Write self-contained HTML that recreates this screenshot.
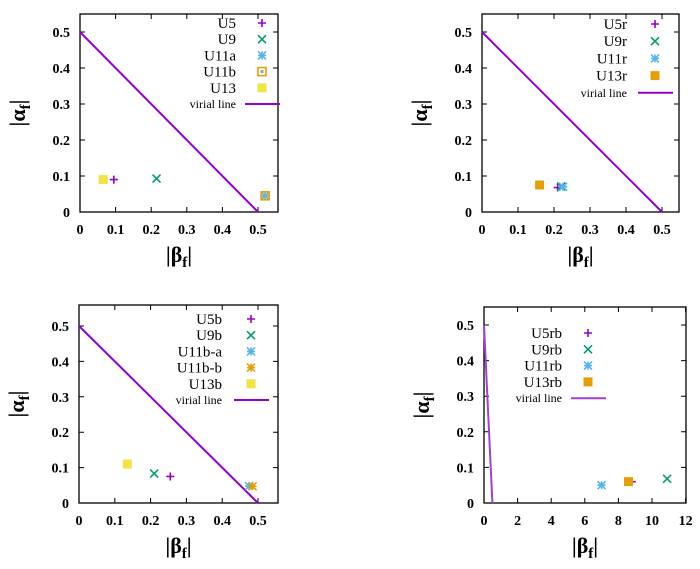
<!DOCTYPE html>
<html><head><meta charset="utf-8"><style>
html,body{margin:0;padding:0;background:#fff;}
svg{display:block;font-family:"Liberation Serif",serif;}
</style></head><body>
<svg id="fig" width="700" height="569" viewBox="0 0 700 569"></svg>
<script>
// Panel 1 data
const p1Names = ["U5","U9","U11a","U11b","U13"];
const p1Beta = [0.095,0.215,0.52,0.52,0.065];
const p1Alpha = [0.09,0.093,0.045,0.045,0.09];
// Panel 2 data
const p2Names = ["U5r","U9r","U11r","U13r"];
const p2Beta = [0.21,0.22,0.225,0.16];
const p2Alpha = [0.068,0.071,0.07,0.075];
// Panel 3 data
const p3Names = ["U5b","U9b","U11b-a","U11b-b","U13b"];
const p3Beta = [0.255,0.21,0.475,0.485,0.135];
const p3Alpha = [0.075,0.083,0.048,0.047,0.11];
// Panel 4 data
const p4Names = ["U5rb","U9rb","U11rb","U13rb"];
const p4Beta = [8.8,10.9,7.0,8.6];
const p4Alpha = [0.06,0.068,0.05,0.06];
// virial line endpoints (beta, alpha)
const virialBeta = [0,0.5];
const virialAlpha = [0.5,0];
const yTicks = [0,0.1,0.2,0.3,0.4,0.5];
const xTicksSmall = [0,0.1,0.2,0.3,0.4,0.5];
const xTicksBig = [0,2,4,6,8,10,12];

const NS="http://www.w3.org/2000/svg";
const svg=document.getElementById('fig');
function mk(tag,attrs,parent){const e=document.createElementNS(NS,tag);for(const k in attrs)e.setAttribute(k,attrs[k]);(parent||svg).appendChild(e);return e;}

const C={purple:"#9400d3",green:"#009e73",blue:"#56b4e9",orange:"#e69f00",yellow:"#f0e442"};

function marker(g,type,x,y,col){
  const s=4;
  if(type==="plus"){mk('path',{d:`M${x-s} ${y}H${x+s}M${x} ${y-s}V${y+s}`,stroke:col,'stroke-width':1.6},g);}
  else if(type==="x"){mk('path',{d:`M${x-s} ${y-s}L${x+s} ${y+s}M${x-s} ${y+s}L${x+s} ${y-s}`,stroke:col,'stroke-width':1.6},g);}
  else if(type==="star"){mk('path',{d:`M${x-s} ${y}H${x+s}M${x} ${y-s}V${y+s}M${x-s} ${y-s}L${x+s} ${y+s}M${x-s} ${y+s}L${x+s} ${y-s}`,stroke:col,'stroke-width':1.6},g);}
  else if(type==="osq"){mk('rect',{x:x-4,y:y-4,width:8,height:8,fill:'none',stroke:col,'stroke-width':1.6},g);mk('rect',{x:x-1.5,y:y-1.5,width:3,height:3,fill:'#8aa'},g);}
  else if(type==="sq"){mk('rect',{x:x-4.5,y:y-4.5,width:9,height:9,fill:col},g);}
}

function panel(o){
  const g=mk('g',{});
  
  
  const sx=v=>o.x0+(v-0)*o.kx, sy=v=>o.y0-v*o.ky;
  const fr=mk('rect',{x:o.x0,y:o.top,width:o.right-o.x0,height:o.y0-o.top,fill:'none',stroke:'#000','stroke-width':1.3},g);
  
  
  yTicks.forEach(t=>{
    const y=sy(t);
    mk('path',{d:`M${o.x0} ${y}h5M${o.right} ${y}h-5`,stroke:'#000','stroke-width':1},g);
    const tx=mk('text',{x:o.x0-10,y:y+5,'text-anchor':'end','font-size':14,'font-weight':'bold'},g);
    tx.textContent=String(t);
    
    
  });
  o.xt.forEach(t=>{
    const x=sx(t);
    mk('path',{d:`M${x} ${o.y0}v-5M${x} ${o.top}v5`,stroke:'#000','stroke-width':1},g);
    const tx=mk('text',{x:x,y:o.y0+22,'text-anchor':'middle','font-size':14,'font-weight':'bold'},g);
    tx.textContent=String(t);
    
    
  });
  const yl=mk('text',{x:0,y:0,transform:`translate(${o.x0-55},${(o.top+o.y0)/2}) rotate(-90)`,'text-anchor':'middle','font-size':22,'font-weight':'bold'},g);
  yl.innerHTML='|α<tspan font-size="15" dy="5">f</tspan><tspan dy="-5">|</tspan>';
  
  
  const xl=mk('text',{x:(o.x0+o.right)/2,y:o.y0+50,'text-anchor':'middle','font-size':22,'font-weight':'bold'},g);
  xl.innerHTML='|β<tspan font-size="15" dy="5">f</tspan><tspan dy="-5">|</tspan>';
  
  
  const vl=mk('line',{x1:sx(virialBeta[0]),y1:sy(virialAlpha[0]),x2:sx(virialBeta[1]),y2:sy(virialAlpha[1]),stroke:o.lineCol,'stroke-width':2},g);
  
  
  o.names.forEach((n,i)=>{
    const pg=mk('g',{},g);
    
    
    marker(pg,o.types[i],sx(o.beta[i]),sy(o.alpha[i]),o.cols[i]);
  });
  o.names.forEach((n,i)=>{
    const ly=o.ly0+i*o.ldy;
    const lt=mk('text',{x:o.lx,y:ly+5,'text-anchor':'end','font-size':15},g);
    lt.textContent=n;
    
    
    marker(g,o.types[i],o.lsx,ly,o.cols[i]);
  });
  const vy=o.ly0+o.names.length*o.ldy;
  const vt=mk('text',{x:o.lx,y:vy+4,'text-anchor':'end','font-size':12},g);
  vt.textContent='virial line';
  
  
  mk('line',{x1:o.lsx-17,y1:vy,x2:o.lsx+18,y2:vy,stroke:o.lineCol,'stroke-width':2},g);
}

panel({name:'panel-top-left',x0:80,right:278,top:14,y0:212,kx:356,ky:360,xt:xTicksSmall,
  names:p1Names,beta:p1Beta,alpha:p1Alpha,types:["plus","x","star","osq","sq"],
  cols:[C.purple,C.green,C.blue,C.orange,C.yellow],lineCol:C.purple,lx:236,lsx:262,ly0:23,ldy:16.2});
panel({name:'panel-top-right',x0:482,right:679,top:14,y0:212,kx:360,ky:360,xt:xTicksSmall,
  names:p2Names,beta:p2Beta,alpha:p2Alpha,types:["plus","x","star","sq"],
  cols:[C.purple,C.green,C.blue,C.orange],lineCol:C.purple,lx:627,lsx:655,ly0:24,ldy:17.2});
panel({name:'panel-bottom-left',x0:79,right:278,top:305,y0:503,kx:358,ky:354,xt:xTicksSmall,
  names:p3Names,beta:p3Beta,alpha:p3Alpha,types:["plus","x","star","star","sq"],
  cols:[C.purple,C.green,C.blue,C.orange,C.yellow],lineCol:C.purple,lx:222,lsx:251,ly0:319,ldy:16.2});
panel({name:'panel-bottom-right',x0:484,right:686,top:307,y0:503,kx:16.8,ky:356,xt:xTicksBig,
  names:p4Names,beta:p4Beta,alpha:p4Alpha,types:["plus","x","star","sq"],
  cols:[C.purple,C.green,C.blue,C.orange],lineCol:"#a040d8",lx:562,lsx:588,ly0:333,ldy:16.3});
</script>
</body></html>
